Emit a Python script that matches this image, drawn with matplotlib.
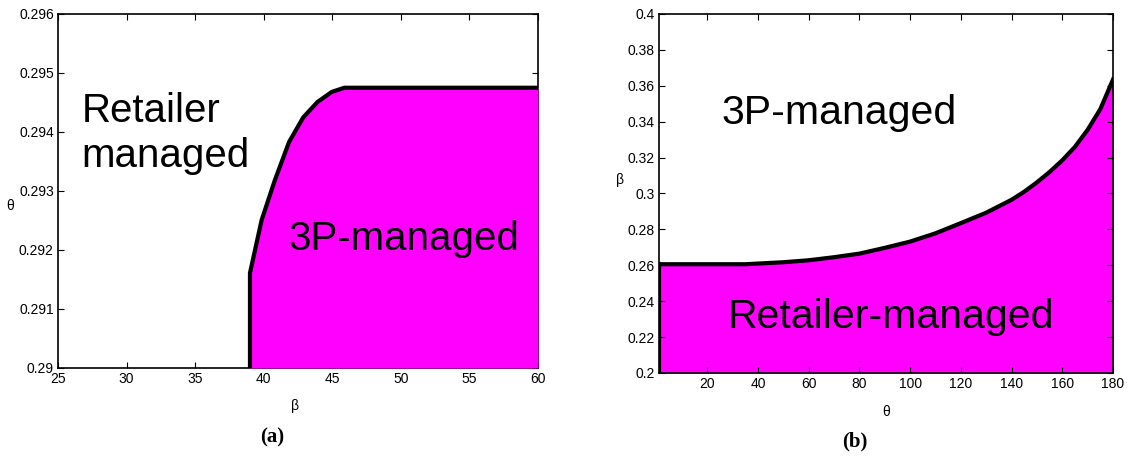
import matplotlib.pyplot as plt
from matplotlib.ticker import FormatStrFormatter

plt.rcParams['font.family'] = ['Liberation Sans', 'DejaVu Sans']

# panel (a): boundary between retailer-managed and 3P-managed regions
beta_a = [39, 39, 39.85, 40.81, 41.85, 42.89, 43.93, 44.97, 45.88, 60]
theta_a = [0.29, 0.29161, 0.292507, 0.29318, 0.29383, 0.29425, 0.29451, 0.29468, 0.29475, 0.29475]

# panel (b)
theta_b = [1, 35, 50, 60, 70, 80, 90, 100, 110, 120, 130, 140, 145, 150, 155,
           160, 165, 170, 175, 180]
beta_b = [0.2606, 0.2606, 0.2617, 0.2628, 0.2645, 0.2665, 0.2697, 0.2732, 0.2778,
          0.2835, 0.2893, 0.2965, 0.301, 0.3062, 0.312, 0.3185, 0.326, 0.3355,
          0.347, 0.3635]

xticks_a = [25, 30, 35, 40, 45, 50, 55, 60]
yticks_a = [0.29, 0.291, 0.292, 0.293, 0.294, 0.295, 0.296]
xticks_b = [20, 40, 60, 80, 100, 120, 140, 160, 180]
yticks_b = [0.2, 0.22, 0.24, 0.26, 0.28, 0.3, 0.32, 0.34, 0.36, 0.38, 0.4]

magenta = '#ff00ff'
fig = plt.figure(figsize=(11.28, 4.76), dpi=100)
ax1 = fig.add_axes([0.0514, 0.2269, 0.4255, 0.7437])
ax2 = fig.add_axes([0.5842, 0.2164, 0.4025, 0.7542])

# (a)
ax1.fill_between(beta_a, 0.29, theta_a, color=magenta, lw=0, zorder=3)
ax1.plot(beta_a, theta_a, color='black', lw=3, zorder=4, solid_joinstyle='round')
ax1.set_xlim(25, 60)
ax1.set_ylim(0.29, 0.296)
ax1.set_xticks(xticks_a)
ax1.set_yticks(yticks_a)
ax1.yaxis.set_major_formatter(FormatStrFormatter('%g'))
ax1.text(26.7, 0.294169, 'Retailer', fontsize=29, zorder=5)
ax1.text(26.7, 0.293408, 'managed', fontsize=29, zorder=5)
ax1.text(41.8, 0.292, '3P-managed', fontsize=29, zorder=5)
ax1.set_xlabel('β', fontsize=10)
ax1.xaxis.set_label_coords(0.494, -0.088)
ax1.set_ylabel('θ', fontsize=10, rotation=0)
ax1.yaxis.set_label_coords(-0.1, 0.438)

# (b)
ax2.fill_between(theta_b, 0.2, beta_b, color=magenta, lw=0)
ax2.plot(theta_b, beta_b, color='black', lw=3, solid_joinstyle='round')
ax2.plot([theta_b[0], theta_b[0]], [0.2, beta_b[0]], color='black', lw=3)
ax2.set_xlim(1, 180)
ax2.set_ylim(0.2, 0.4)
ax2.set_xticks(xticks_b)
ax2.set_yticks(yticks_b)
ax2.yaxis.set_major_formatter(FormatStrFormatter('%g'))
ax2.text(25.7, 0.3385, '3P-managed', fontsize=29.5)
ax2.text(28.25, 0.225, 'Retailer-managed', fontsize=29.5)
ax2.set_xlabel('θ', fontsize=10)
ax2.xaxis.set_label_coords(0.5, -0.089)
ax2.set_ylabel('β', fontsize=10, rotation=0)
ax2.yaxis.set_label_coords(-0.086, 0.518)

for ax in (ax1, ax2):
    ax.tick_params(direction='in', top=True, right=True, length=4, labelsize=10, pad=3)
    for s in ax.spines.values():
        s.set_linewidth(1.2)

fig.text(272 / 1128, 1 - 437 / 476, '(a)', fontsize=15, fontweight='bold',
         family='Liberation Serif', ha='center', va='center')
fig.text(855 / 1128, 1 - 441 / 476, '(b)', fontsize=15, fontweight='bold',
         family='Liberation Serif', ha='center', va='center')

plt.savefig('out.png', dpi=100)
